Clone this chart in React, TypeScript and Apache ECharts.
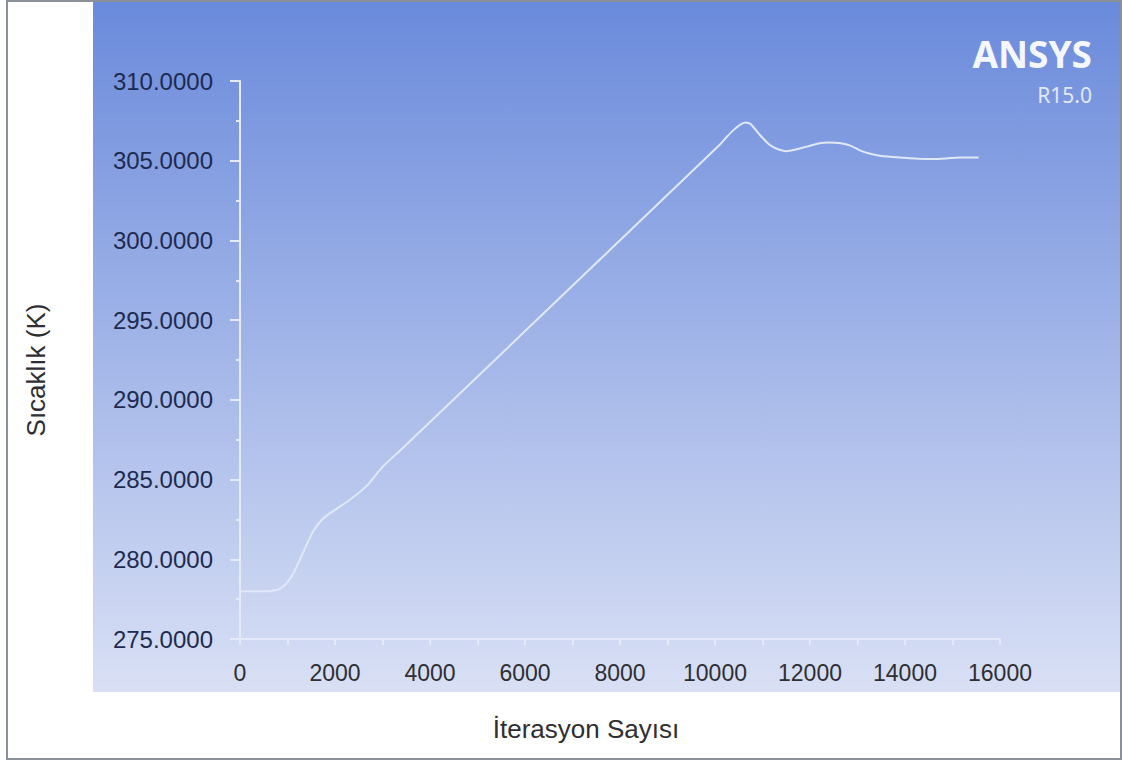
import React, { useEffect, useRef } from "react";
import * as echarts from "echarts";

const iterations = [0, 600, 800, 950, 1100, 1250, 1400, 1550, 1700, 1850, 2000, 2300, 2700, 3000, 3400, 10100, 10250, 10400, 10550, 10650, 10750, 10950, 11150, 11300, 11500, 11700, 11950, 12200, 12400, 12650, 12850, 13050, 13250, 13500, 13900, 14300, 14600, 14900, 15150, 15550];
const temperatures = [278.0, 278.0, 278.1, 278.4, 279.0, 279.9, 280.9, 281.8, 282.4, 282.8, 283.1, 283.7, 284.7, 285.8, 286.9, 306.0, 306.5, 306.95, 307.3, 307.4, 307.3, 306.6, 306.0, 305.75, 305.6, 305.7, 305.9, 306.1, 306.15, 306.1, 305.95, 305.65, 305.45, 305.3, 305.2, 305.12, 305.1, 305.15, 305.2, 305.2];

const xTitle = "İterasyon Sayısı";
const yTitle = "Sıcaklık (K)";
const logoMain = "ANSYS";
const logoSub = "R15.0";

const FONT = "'Liberation Sans', Arial, sans-serif";

export default function App() {
  const ref = useRef<HTMLDivElement>(null);
  useEffect(() => {
    if (!ref.current) return;
    const chart = echarts.init(ref.current, null, { renderer: "svg" });
    const data = iterations.map((it, i) => [it, temperatures[i]]);
    chart.setOption({
      animation: false,
      backgroundColor: "#ffffff",
      grid: { left: 240, right: 122, top: 81, bottom: 124 },
      xAxis: {
        type: "value",
        min: 0,
        max: 16000,
        interval: 2000,
        axisLine: { show: true, lineStyle: { color: "#e4eaf7", width: 2 } },
        axisTick: { show: true, length: 6, lineStyle: { color: "#e4eaf7", width: 2 } },
        minorTick: { show: true, splitNumber: 2, length: 6, lineStyle: { color: "#e4eaf7", width: 2 } },
        splitLine: { show: false },
        axisLabel: {
          color: "#2e2e33",
          fontSize: 23,
          fontFamily: FONT,
          margin: 22,
          formatter: (v: number) => String(v),
        },
      },
      yAxis: {
        type: "value",
        min: 275,
        max: 310,
        interval: 5,
        axisLine: { show: true, lineStyle: { color: "#e4eaf7", width: 2 } },
        axisTick: { show: true, length: 10, lineStyle: { color: "#e4eaf7", width: 2 } },
        minorTick: { show: true, splitNumber: 2, length: 4, lineStyle: { color: "#e4eaf7", width: 2 } },
        splitLine: { show: false },
        axisLabel: {
          color: "#1d2b50",
          fontSize: 24,
          fontFamily: FONT,
          margin: 27,
          formatter: (v: number) => v.toFixed(4),
        },
      },
      series: [
        {
          type: "line",
          data,
          smooth: 0.15,
          showSymbol: false,
          lineStyle: { color: "#e0e8f8", width: 2 },
          z: 5,
        },
      ],
      graphic: [
        {
          type: "rect",
          z: -10,
          silent: true,
          shape: { x: 93, y: 2, width: 1029, height: 690 },
          style: {
            fill: new echarts.graphic.LinearGradient(0, 0, 0, 1, [
              { offset: 0, color: "#6a8adb" },
              { offset: 1, color: "#d9e0f5" },
            ]),
          },
        },
        {
          type: "rect",
          z: 10,
          silent: true,
          shape: { x: 7, y: 1, width: 1114, height: 758 },
          style: { fill: "none", stroke: "#8a919a", lineWidth: 2 },
        },
        {
          type: "text",
          z: 10,
          x: 1092,
          y: 53,
          style: {
            text: logoMain,
            fill: "#f4f7ff",
            font: "bold 37px 'Noto Sans', sans-serif",
            lineHeight: 32,
            align: "right",
            verticalAlign: "middle",
          },
        },
        {
          type: "text",
          z: 10,
          x: 1092,
          y: 95,
          style: {
            text: logoSub,
            fill: "#e2e8f6",
            font: "21px 'Noto Sans', sans-serif",
            lineHeight: 19,
            align: "right",
            verticalAlign: "middle",
          },
        },
        {
          type: "text",
          z: 10,
          x: 586,
          y: 729,
          style: {
            text: xTitle,
            fill: "#2e2e33",
            font: "26px " + FONT,
            align: "center",
            verticalAlign: "middle",
          },
        },
        {
          type: "text",
          z: 10,
          x: 36,
          y: 370,
          rotation: Math.PI / 2,
          style: {
            text: yTitle,
            fill: "#2e2e33",
            font: "26px " + FONT,
            align: "center",
            verticalAlign: "middle",
          },
        },
      ],
    });
    return () => chart.dispose();
  }, []);
  return (
    <div
      ref={ref}
      style={{ position: "fixed", left: 0, top: 0, width: 1122, height: 763 }}
    />
  );
}
